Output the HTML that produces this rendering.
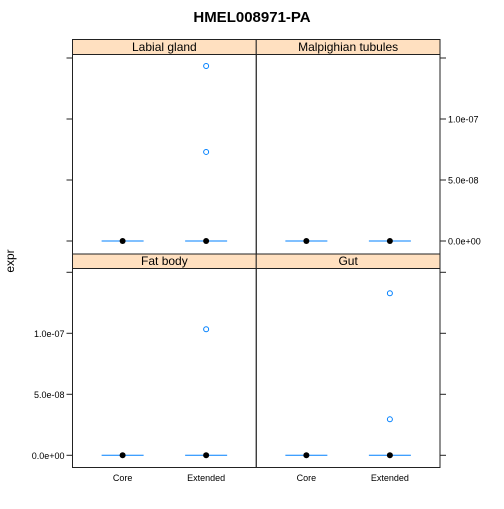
<!DOCTYPE html>
<html><head><meta charset="utf-8"><style>
body{margin:0;background:#fff}
svg text{font-family:"Liberation Sans",sans-serif}
</style></head><body>
<svg id="c" width="504" height="504" xmlns="http://www.w3.org/2000/svg">
<text x="252" y="22" text-anchor="middle" font-size="15" font-weight="bold">HMEL008971-PA</text>
<text x="14" y="261" text-anchor="middle" font-size="12" transform="rotate(-90 14 261)">expr</text>
</svg>
<script>
const categories = ["Core", "Extended"];
const panels = ["Labial gland", "Malpighian tubules", "Fat body", "Gut"];
const medians = [[0, 0], [0, 0], [0, 0], [0, 0]];
const outliers = [[[], [1.434e-7, 7.3e-8]], [[], []], [[], [1.033e-7]], [[], [1.328e-7, 2.95e-8]]];
const yTicks = [0, 5e-8, 1e-7, 1.5e-7];
const yTickLabels = ["0.0e+00", "5.0e-08", "1.0e-07", ""];

const svg = document.getElementById('c');
const NS = 'http://www.w3.org/2000/svg';
function mk(tag, attrs, parent) {
  const e = document.createElementNS(NS, tag);
  for (const k in attrs) e.setAttribute(k, attrs[k]);
  (parent || svg).appendChild(e);
  return e;
}
const L = 72.5, R = 440, W = (R - L) / 2;
const rows = [{st: 39.5, top: 54.5, bot: 254, zero: 241}, {st: 254, top: 268.5, bot: 467.5, zero: 455.3}];
const pxPer = 61 / 5e-8;
function xs(col, i) { return L + col * W + (i + 1 - 0.4) / 2.2 * W; }
function ys(row, v) { return rows[row].zero - v * pxPer; }

panels.forEach((name, p) => {
  const row = p < 2 ? 0 : 1, col = p % 2;
  const r = rows[row];
  const x0 = L + col * W;
  const g = mk('g', {});
  
  
  const s = mk('rect', {x: x0, y: r.st, width: W, height: r.top - r.st, fill: '#ffe0c0', stroke: '#222', 'stroke-width': 1}, g);
  
  
  const t = mk('text', {x: x0 + W / 2, y: r.top - 3.5, 'text-anchor': 'middle', 'font-size': 12}, g);
  t.textContent = name;
  
  
  mk('rect', {x: x0, y: r.top, width: W, height: r.bot - r.top, fill: 'none', stroke: '#222', 'stroke-width': 1}, g);
  categories.forEach((c, i) => {
    const cx = xs(col, i);
    const ym = ys(row, medians[p][i]);
    const wl = mk('line', {x1: cx - 21, x2: cx + 21, y1: ym, y2: ym, stroke: '#0080ff', 'stroke-width': 1}, g);
    
    
    const d = mk('circle', {cx: cx, cy: ym, r: 3, fill: '#000'}, g);
    
    
    outliers[p][i].forEach(v => {
      const o = mk('circle', {cx: cx, cy: ys(row, v), r: 2.5, fill: 'none', stroke: '#0080ff', 'stroke-width': 1}, g);
      
      
    });
  });
});
// y axes
[0, 1].forEach(row => {
  const leftLabels = row === 1;
  yTicks.forEach((v, k) => {
    const y = ys(row, v);
    const tl = mk('line', {x1: L - 6, x2: L, y1: y, y2: y, stroke: '#222'});
    
    
    const tr = mk('line', {x1: R, x2: R + 6, y1: y, y2: y, stroke: '#222'});
    
    
    const lab = mk('text', leftLabels ? {x: L - 8, y: y + 3.5, 'text-anchor': 'end', 'font-size': 9} : {x: R + 8, y: y + 3.5, 'font-size': 9});
    lab.textContent = yTickLabels[k];
    
    
  });
});
// x axis labels
[0, 1].forEach(col => {
  categories.forEach((c, i) => {
    const x = xs(col, i);
    const t = mk('text', {x: x, y: 481, 'text-anchor': 'middle', 'font-size': 9});
    t.textContent = c;
    
    
  });
});
</script>
</body></html>
